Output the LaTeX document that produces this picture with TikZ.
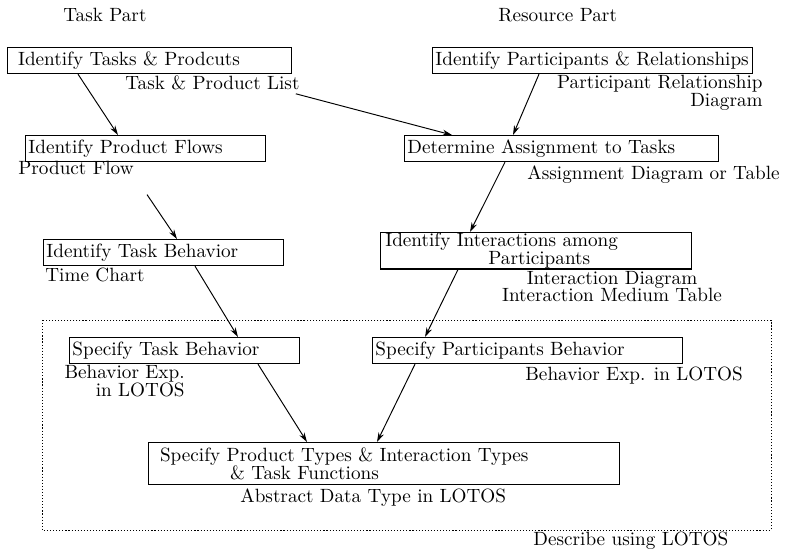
\documentclass[tikz,border=0pt]{standalone}
\usepackage{tikz}
\usetikzlibrary{calc,arrows.meta}
\tikzset{
  stage/.style={draw, line width=0.55pt, anchor=north west, align=left,
    inner xsep=1.5pt, inner ysep=2.6pt, text height=6.9pt, text depth=1.5pt},
  stagetwo/.style={draw, line width=0.55pt, anchor=north west, align=left,
    inner xsep=2.5pt, inner ysep=0.4pt,
    font=\fontsize{10pt}{9.2pt}\selectfont},
  prod/.style={inner sep=0pt, anchor=base west},
  prodtwo/.style={inner sep=0pt, font=\fontsize{10pt}{9.4pt}\selectfont,
    execute at begin node={\lineskiplimit=-5pt}},
  flow/.style={draw, line width=0.5pt, -{Stealth[length=5pt,width=3pt]}},
  frame/.style={draw, line width=0.45pt, dash pattern=on 0.6pt off 1pt}
}

\begin{document}
\begin{tikzpicture}[x=0.521pt, y=-0.521pt]
  \useasboundingbox (0,0) rectangle (796,553);
  % headings
  \node[prod] (taskhd) at (63,22) {Task Part};
  \node[prod] (reshd) at (498,22) {Resource Part};
  % task part
  \node[stage, inner xsep=5.5pt, text width=137pt] (tasks) at (7,47) {Identify Tasks \& Prodcuts};
  \node[prod] (tplist) at (125,90) {Task \& Product List};
  \node[stage, text width=122pt] (flows) at (25,135) {Identify Product Flows};
  \node[prod] (pflow) at (18,175) {Product Flow};
  \coordinate (pfout) at ($(pflow.south east)+(13,19)$);
  \node[stage, text width=122pt] (behav) at (43,239) {Identify Task Behavior};
  \node[prod] (tchart) at (45,282) {Time Chart};
  % resource part
  \node[stage, text width=163.7pt] (parts) at (432,47) {Identify Participants \& Relationships};
  \node[prodtwo, align=right, anchor=north east] (prdiag) at (763,74.7) {Participant Relationship\\Diagram};
  \node[stage, text width=160.6pt] (assign) at (404,135) {Determine Assignment to Tasks};
  \node[prod] (adiag) at (527,180) {Assignment Diagram or Table};
  \node[stagetwo, text width=157pt] (inter) at (380,232)
    {Identify Interactions among\\\hspace*{53.7pt}Participants};
  \node[prodtwo, align=center, anchor=north, font=\fontsize{10pt}{8.9pt}\selectfont] (idiag) at (612,270.7)
    {Interaction Diagram\\Interaction Medium Table};
  % LOTOS part
  \draw[frame] (42,320) rectangle (771,530);
  \node[stage, text width=116.8pt] (spectask) at (69,337) {Specify Task Behavior};
  \node[prodtwo, align=right, anchor=north east] (bexp) at (185,364.7) {Behavior Exp.\\in LOTOS};
  \node[stage, text width=158.5pt] (specpart) at (372,337) {Specify Participants Behavior};
  \node[prod] (pexp) at (525,381) {Behavior Exp. in LOTOS};
  \node[stagetwo, inner xsep=6pt, inner ysep=2.6pt, font=\fontsize{10pt}{9.4pt}\selectfont, text width=233.4pt] (types) at (148,442)
    {Specify Product Types \& Interaction Types\\\hspace*{36.5pt}\& Task Functions};
  \node[prod] (adt) at (240,502) {Abstract Data Type in LOTOS};
  \node[prod] (lotos) at (533,545) {Describe using LOTOS};
  % connectors
  \draw[flow] ($(tasks.south west)+(71,0)$) -- ($(flows.north west)+(93,0)$);
  \draw[flow] ($(tplist.south east)+(-4,3)$) -- ($(assign.north west)+(48,0)$);
  \draw[flow] ($(parts.south west)+(107,0)$) -- ($(assign.north west)+(109,0)$);
  \draw[flow] (pfout) -- ($(behav.north west)+(134,0)$);
  \draw[flow] ($(assign.south west)+(101,0)$) -- ($(inter.north west)+(90,0)$);
  \draw[flow] ($(behav.south west)+(152,0)$) -- ($(spectask.north west)+(169,0)$);
  \draw[flow] ($(inter.south west)+(78,0)$) -- ($(specpart.north west)+(53,0)$);
  \draw[flow] ($(spectask.south west)+(189,0)$) -- ($(types.north west)+(159,0)$);
  \draw[flow] ($(specpart.south west)+(43,0)$) -- ($(types.north west)+(229,0)$);
\end{tikzpicture}
\end{document}
